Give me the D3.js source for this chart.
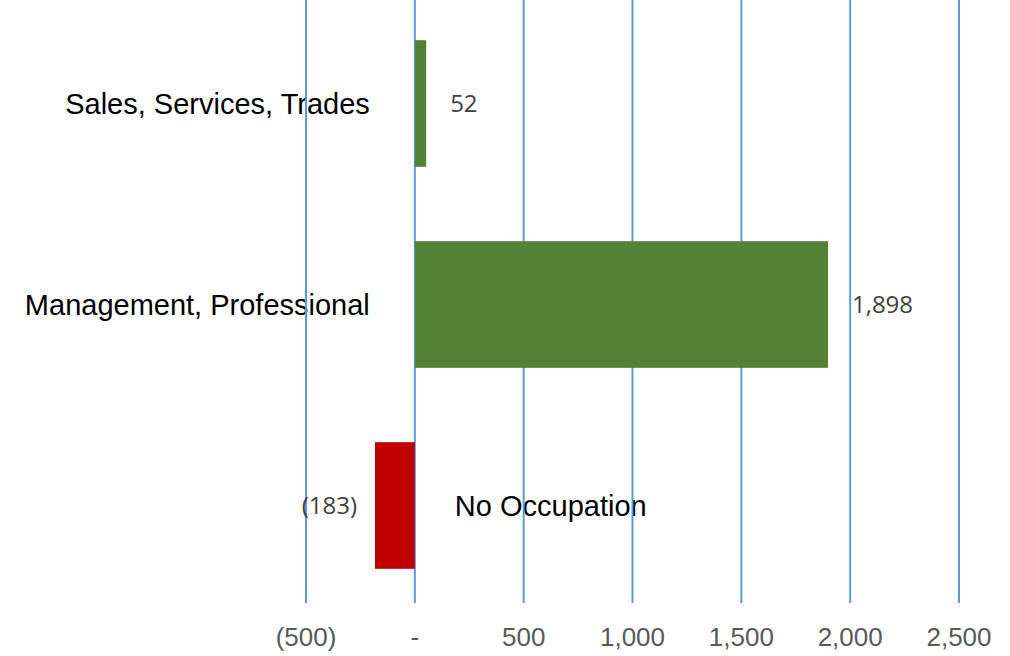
<!DOCTYPE html>
<html>
<head>
<meta charset="utf-8">
<script src="https://cdn.jsdelivr.net/npm/d3@7"></script>
<style>
  body { margin: 0; background: #fff; }
</style>
</head>
<body>
<div id="chart"></div>
<script>
// chart data
var categories = ["Sales, Services, Trades", "Management, Professional", "No Occupation"]
var values = [52, 1898, -183]
var tickValues = [-500, 0, 500, 1000, 1500, 2000, 2500]

var width = 1010
var height = 656

var svg = d3.select("#chart")
    .append("svg")
    .attr("width", width)
    .attr("height", height)

var x = d3.scaleLinear()
    .domain([-500, 2500])
    .range([306, 959])

var y = d3.scaleBand()
    .domain(categories)
    .range([3, 606])
    .paddingInner(0.37)
    .paddingOuter(0.185)

function fmt(v) {
    if (v == 0) return "-"
    var s = d3.format(",")(Math.abs(v))
    return v < 0 ? "(" + s + ")" : s
}

var data = categories.map(function (c, i) { return { cat: c, value: values[i] } })

// category labels (under gridlines)
svg.selectAll(".cat")
    .data(data)
    .enter()
    .append("text")
    .attr("class", "cat")
    .attr("x", function (d) { return d.value < 0 ? x(0) + 40 : x(0) - 45 })
    .attr("y", function (d) { return y(d.cat) + y.bandwidth() / 2 })
    .attr("dy", "0.35em")
    .attr("text-anchor", function (d) { return d.value < 0 ? "start" : "end" })
    .style("font-family", "Liberation Sans, Arial, sans-serif")
    .style("font-size", "29px")
    .attr("fill", "#000")
    .text(function (d) { return d.cat })

// vertical gridlines
svg.selectAll(".grid")
    .data(tickValues)
    .enter()
    .append("line")
    .attr("x1", function (d) { return x(d) })
    .attr("x2", function (d) { return x(d) })
    .attr("y1", 0)
    .attr("y2", 603)
    .attr("stroke", "#5B9BD5")
    .attr("stroke-width", 2)

// bars
svg.selectAll(".bar")
    .data(data)
    .enter()
    .append("rect")
    .attr("x", function (d) { return x(Math.min(0, d.value)) })
    .attr("width", function (d) { return Math.abs(x(d.value) - x(0)) })
    .attr("y", function (d) { return y(d.cat) })
    .attr("height", y.bandwidth())
    .attr("fill", function (d) { return d.value < 0 ? "#C00000" : "#548235" })

// value labels
svg.selectAll(".val")
    .data(data)
    .enter()
    .append("text")
    .attr("x", function (d) { return d.value < 0 ? x(d.value) - 18 : x(d.value) + 24 })
    .attr("y", function (d) { return y(d.cat) + y.bandwidth() / 2 })
    .attr("dy", "0.35em")
    .attr("text-anchor", function (d) { return d.value < 0 ? "end" : "start" })
    .style("font-family", "Open Sans, Noto Sans, sans-serif")
    .style("font-size", "24px")
    .attr("fill", "#404040")
    .text(function (d) { return fmt(d.value) })

// axis tick labels
svg.selectAll(".tick")
    .data(tickValues)
    .enter()
    .append("text")
    .attr("x", function (d) { return x(d) })
    .attr("y", 637)
    .attr("dy", "0.35em")
    .attr("text-anchor", "middle")
    .style("font-family", "Liberation Sans, Arial, sans-serif")
    .style("font-size", "26px")
    .attr("fill", "#595959")
    .text(function (d) { return fmt(d) })
</script>
</body>
</html>
